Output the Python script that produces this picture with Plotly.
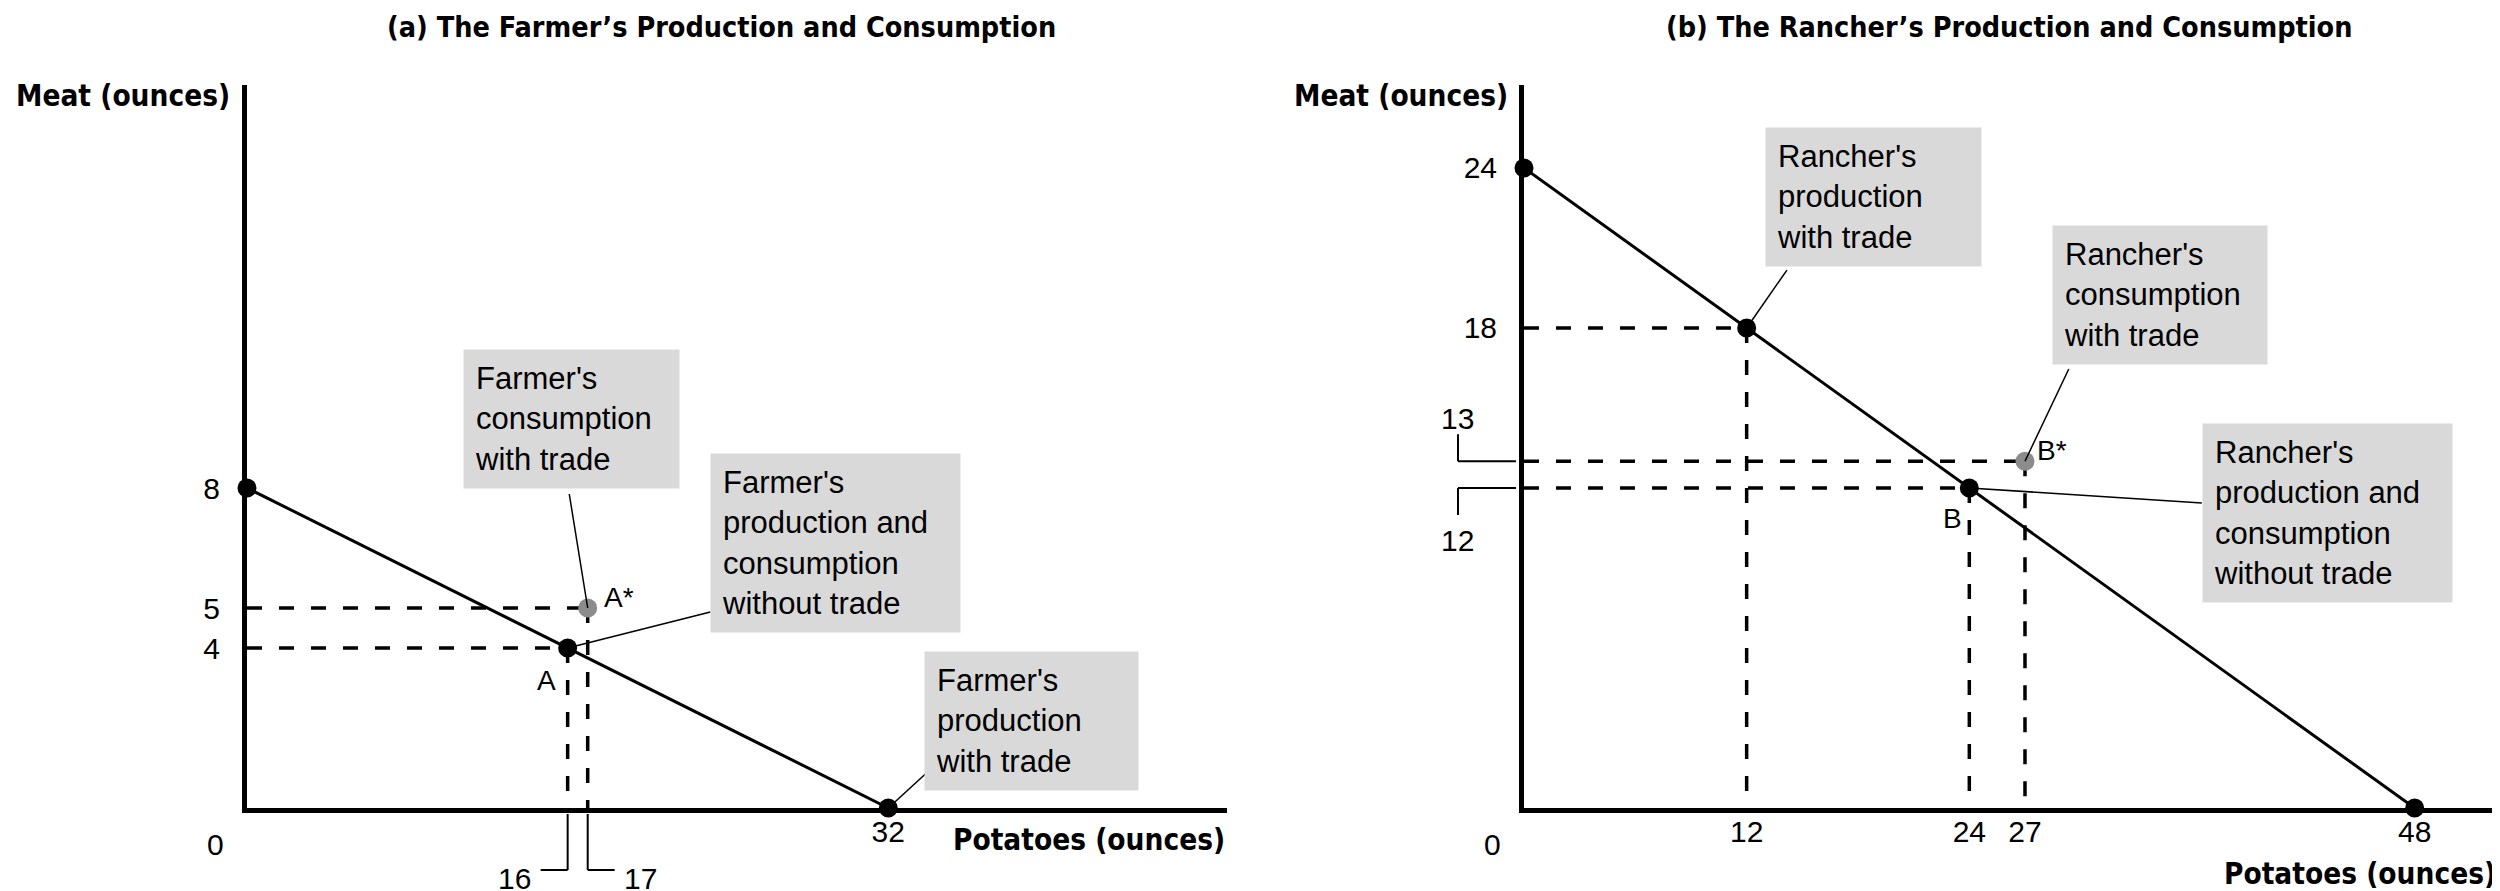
import plotly.graph_objects as go

# ---- panel (a): the farmer ----
farmer_ppf_x = [0, 32]
farmer_ppf_y = [8, 0]
farmer_point_x = [16, 17]            # A (no trade), A* (with trade)
farmer_point_y = [4, 5]
farmer_point_names = ["A", "A*"]
farmer_xticks = [32]
farmer_yticks = [4, 5, 8]
farmer_bracket_xticks = [16, 17]

# ---- panel (b): the rancher ----
rancher_ppf_x = [0, 48]
rancher_ppf_y = [24, 0]
rancher_point_x = [12, 24, 27]       # production w/ trade, B, B*
rancher_point_y = [18, 12, 13]
rancher_point_names = ["", "B", "B*"]
rancher_xticks = [12, 24, 27, 48]
rancher_yticks = [18, 24]
rancher_bracket_yticks = [13, 12]

BLACK = "#000000"
GREY_DOT = "#8c8c8c"
BOX_BG = "#d9d9d9"
TEXT_FONT = "Liberation Sans, Arial, sans-serif"
BOLD_FONT = "DejaVu Sans Condensed, DejaVu Sans, sans-serif"
DASH = "15px,17px"
TICK_SIZE = 30

fig = go.Figure()


def add_panel(xa, ya, ppf_x, ppf_y, pts_x, pts_y, grey_idx):
    # dashed guides from each point back to the axes
    gx, gy = [], []
    for x, y in zip(pts_x, pts_y):
        gx += [0, x, None, x, x, None]
        gy += [y, y, None, y, 0, None]
    fig.add_trace(go.Scatter(x=gx, y=gy, xaxis=xa, yaxis=ya, mode="lines",
                             line=dict(color=BLACK, width=3.5, dash=DASH),
                             hoverinfo="skip"))
    # production possibilities frontier
    fig.add_trace(go.Scatter(x=ppf_x, y=ppf_y, xaxis=xa, yaxis=ya, mode="lines",
                             line=dict(color=BLACK, width=3), hoverinfo="skip"))
    # dots
    dot_x = list(ppf_x) + list(pts_x)
    dot_y = list(ppf_y) + list(pts_y)
    colors = [BLACK] * len(dot_x)
    colors[len(ppf_x) + grey_idx] = GREY_DOT
    fig.add_trace(go.Scatter(x=dot_x, y=dot_y, xaxis=xa, yaxis=ya, mode="markers",
                             marker=dict(size=19, color=colors), cliponaxis=False,
                             hoverinfo="skip"))


add_panel("x", "y", farmer_ppf_x, farmer_ppf_y, farmer_point_x, farmer_point_y, 1)
add_panel("x2", "y2", rancher_ppf_x, rancher_ppf_y, rancher_point_x, rancher_point_y, 2)

annotations = []
shapes = []


def box(xref, yref, x, y, w, text):
    annotations.append(dict(
        xref=xref, yref=yref, x=x, y=y, xanchor="left", yanchor="top",
        text=text, showarrow=False, align="left", width=w - 22, borderpad=11,
        bgcolor=BOX_BG, font=dict(family=TEXT_FONT, size=31, color=BLACK)))


def leader(xref, yref, x0, y0, x1, y1):
    shapes.append(dict(type="line", xref=xref, yref=yref, x0=x0, y0=y0, x1=x1, y1=y1,
                       line=dict(color=BLACK, width=1.5)))


# farmer call-out boxes and leaders
box("x", "y", 10.78, 11.48, 215, "Farmer's<br>consumption<br>with trade")
box("x", "y", 23.12, 8.88, 249, "Farmer's<br>production and<br>consumption<br>without trade")
box("x", "y", 33.8, 3.93, 213, "Farmer's<br>production<br>with trade")
leader("x", "y", farmer_point_x[1], farmer_point_y[1], 16.08, 7.85)
leader("x", "y", farmer_point_x[0], farmer_point_y[0], 23.12, 4.9)
leader("x", "y", farmer_ppf_x[1], farmer_ppf_y[1], 33.85, 0.85)

# rancher call-out boxes and leaders
box("x2", "y2", 12.98, 25.53, 215, "Rancher's<br>production<br>with trade")
box("x2", "y2", 28.45, 21.86, 214, "Rancher's<br>consumption<br>with trade")
box("x2", "y2", 36.53, 14.44, 249, "Rancher's<br>production and<br>consumption<br>without trade")
leader("x2", "y2", rancher_point_x[0], rancher_point_y[0], 14.17, 20.17)
leader("x2", "y2", rancher_point_x[2], rancher_point_y[2], 29.36, 16.46)
leader("x2", "y2", rancher_point_x[1], rancher_point_y[1], 36.53, 11.44)

# point letters
label_shift = {"A": (-21, -32), "A*": (31, 11), "B": (-17, -31), "B*": (27, 11)}
for xr, yr, xs, ys, names in [("x", "y", farmer_point_x, farmer_point_y, farmer_point_names),
                              ("x2", "y2", rancher_point_x, rancher_point_y, rancher_point_names)]:
    for x, y, n in zip(xs, ys, names):
        if not n:
            continue
        dx, dy = label_shift[n]
        annotations.append(dict(xref=xr, yref=yr, x=x, y=y, text=n, showarrow=False,
                                xanchor="center", yanchor="middle", xshift=dx, yshift=dy,
                                font=dict(family=TEXT_FONT, size=28, color=BLACK)))

# origin zeros
for xr, yr in [("x", "y"), ("x2", "y2")]:
    annotations.append(dict(xref=xr, yref=yr, x=0, y=0, text="0", showarrow=False,
                            xanchor="center", yanchor="middle", xshift=-32, yshift=-36,
                            font=dict(family=TEXT_FONT, size=TICK_SIZE, color=BLACK)))

# bracketed tick labels under the farmer's x axis (16, 17)
y_axis_bottom = 1 - 800 / 891
for v, side in zip(farmer_bracket_xticks, [-1, 1]):
    shapes.append(dict(type="line", xref="x", yref="paper", x0=v, x1=v,
                       ysizemode="pixel", yanchor=y_axis_bottom, y0=-6, y1=-62,
                       line=dict(color=BLACK, width=2)))
    shapes.append(dict(type="line", xref="x", yref="paper", xsizemode="pixel", xanchor=v,
                       x0=0, x1=27 * side, ysizemode="pixel", yanchor=y_axis_bottom,
                       y0=-62, y1=-62, line=dict(color=BLACK, width=2)))
    annotations.append(dict(xref="x", yref="paper", x=v, y=y_axis_bottom, text=str(v),
                            showarrow=False, xanchor="center", yanchor="middle",
                            xshift=53 * side, yshift=-70,
                            font=dict(family=TEXT_FONT, size=TICK_SIZE, color=BLACK)))

# bracketed tick labels left of the rancher's y axis (13, 12)
x_axis_left = 1516 / 2500
for v, side in zip(rancher_bracket_yticks, [1, -1]):
    shapes.append(dict(type="line", xref="paper", yref="y2", xsizemode="pixel",
                       xanchor=x_axis_left, x0=-8, x1=-66, y0=v, y1=v,
                       line=dict(color=BLACK, width=2)))
    shapes.append(dict(type="line", xref="paper", yref="y2", xsizemode="pixel",
                       xanchor=x_axis_left, x0=-66, x1=-66, ysizemode="pixel", yanchor=v,
                       y0=0, y1=27 * side, line=dict(color=BLACK, width=2)))
    annotations.append(dict(xref="paper", yref="y2", x=x_axis_left, y=v, text=str(v),
                            showarrow=False, xanchor="center", yanchor="middle",
                            xshift=-67, yshift=(43 if side > 0 else -53),
                            font=dict(family=TEXT_FONT, size=TICK_SIZE, color=BLACK)))

# titles and axis names


def label(x, y, text, xanchor, size):
    annotations.append(dict(xref="paper", yref="paper", x=x / 2500, y=1 - y / 891,
                            xanchor=xanchor, yanchor="middle", showarrow=False,
                            text="<b>" + text + "</b>",
                            font=dict(family=BOLD_FONT, size=size, color=BLACK)))


label(713, 19, "(a) The Farmer’s Production and Consumption", "center", 28.5)
label(2001, 19, "(b) The Rancher’s Production and Consumption", "center", 28.5)
label(6, 88, "Meat (ounces)", "left", 29.5)
label(1284, 88, "Meat (ounces)", "left", 29.5)
label(1219, 832, "Potatoes (ounces)", "right", 29.5)
label(2490, 866, "Potatoes (ounces)", "right", 29.5)

axis_common = dict(showgrid=False, zeroline=False, showline=True, linecolor=BLACK,
                   linewidth=5, ticks="", fixedrange=True,
                   tickfont=dict(family=TEXT_FONT, size=TICK_SIZE, color=BLACK))
y_domain = [1 - 800 / 891, 1 - 77 / 891]

fig.update_layout(
    width=2500, height=891,
    margin=dict(l=0, r=0, t=0, b=0),
    paper_bgcolor="white", plot_bgcolor="white",
    showlegend=False, hovermode=False,
    xaxis=dict(domain=[239 / 2500, 1219 / 2500], range=[0, 48.9], anchor="y",
               tickvals=farmer_xticks, ticklabelstandoff=-7, **axis_common),
    yaxis=dict(domain=y_domain, range=[0, 18.075], anchor="x",
               tickvals=farmer_yticks, ticklabelstandoff=16, **axis_common),
    xaxis2=dict(domain=[1516 / 2500, 2492 / 2500], range=[0, 52.6], anchor="y2",
                tickvals=rancher_xticks, ticklabelstandoff=-7, **axis_common),
    yaxis2=dict(domain=y_domain, range=[0, 27.11], anchor="x2",
                tickvals=rancher_yticks, ticklabelstandoff=16, **axis_common),
    annotations=annotations,
    shapes=shapes,
)

fig.write_html("out.html")
